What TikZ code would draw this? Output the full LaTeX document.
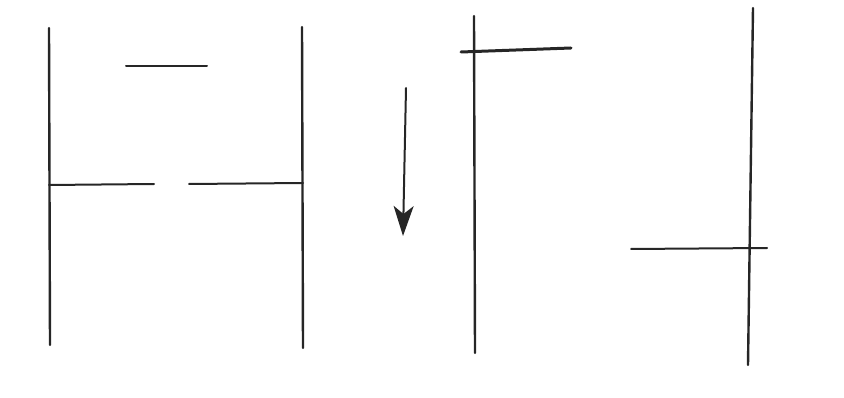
\documentclass[tikz,border=0pt]{standalone}
\usetikzlibrary{arrows.meta}
\begin{document}
\begin{tikzpicture}[x=1pt,y=-1pt,
  stroke/.style={line width=2.4pt,line cap=round,black!85},
  thinstroke/.style={line width=2pt,line cap=round,black!85}]
\useasboundingbox (0,0) rectangle (844,398);
% left frame
\coordinate (l1t) at (49,28); \coordinate (l1b) at (50,345);
\coordinate (l2t) at (302,27); \coordinate (l2b) at (303,348);
\coordinate (tt1) at (126,66); \coordinate (tt2) at (207,66);
\coordinate (ha1) at (49,185); \coordinate (ha2) at (154,184);
\coordinate (hb1) at (189,184); \coordinate (hb2) at (303,183);
\draw[stroke] (l1t) -- (l1b);
\draw[stroke] (l2t) -- (l2b);
\draw[thinstroke] (tt1) -- (tt2);
\draw[thinstroke] (ha1) -- (ha2);
\draw[thinstroke] (hb1) -- (hb2);
% arrow
\coordinate (a1) at (406,88); \coordinate (a2) at (403,236);
\draw[thinstroke,-{Stealth[length=30pt,width=20pt,inset=8pt]}] (a1) -- (a2);
% right part
\coordinate (r1t) at (474,16); \coordinate (r1b) at (475,353);
\coordinate (rh1) at (461,52); \coordinate (rh2) at (571,48);
\coordinate (r2t) at (753,8); \coordinate (r2b) at (748,365);
\coordinate (rb1) at (631,249); \coordinate (rb2) at (767,248);
\draw[stroke] (r1t) -- (r1b);
\draw[line width=3pt,line cap=round,black!85] (rh1) -- (rh2);
\draw[stroke] (r2t) -- (r2b);
\draw[thinstroke] (rb1) -- (rb2);
\end{tikzpicture}
\end{document}
